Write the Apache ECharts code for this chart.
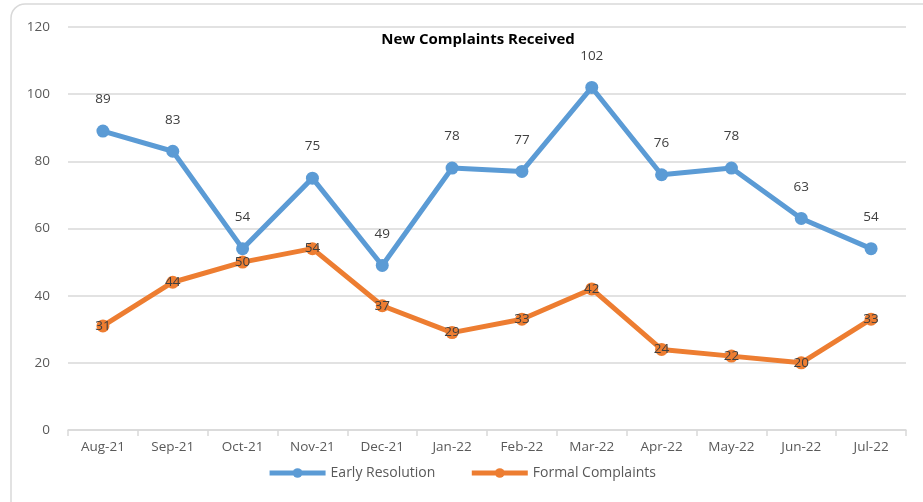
<!DOCTYPE html>
<html><head><meta charset="utf-8">
<script src="https://cdn.jsdelivr.net/npm/echarts@6/dist/echarts.min.js"></script>
<style>html,body{margin:0;padding:0;background:#fff}#c{width:923px;height:502px}</style>
</head><body><div id="c"></div>
<script>
var categories = ['Aug-21','Sep-21','Oct-21','Nov-21','Dec-21','Jan-22','Feb-22','Mar-22','Apr-22','May-22','Jun-22','Jul-22'];
var earlyResolution = [89,83,54,75,49,78,77,102,76,78,63,54];
var formalComplaints = [31,44,50,54,37,29,33,42,24,22,20,33];
var yTicks = {min:0, max:120, interval:20};

var chart = echarts.init(document.getElementById('c'));
var font = 'Open Sans';
chart.setOption({
  animation:false,
  textStyle:{fontFamily:font},
  title:{text:'New Complaints Received', left:473, top:27, textAlign:'center',
    textStyle:{fontSize:15, fontWeight:'bold', color:'#000', fontFamily:font}},
  graphic:[{type:'rect', shape:{x:11, y:4, width:940, height:540, r:14},
    style:{fill:'none', stroke:'#d9d9d9', lineWidth:1.5}, z:-1}],
  grid:{left:68, right:17, top:27, bottom:72},
  legend:{bottom:17, left:'center', itemWidth:56, itemHeight:12, itemGap:34,
    lineStyle:{width:5},
    textStyle:{fontSize:14, color:'#595959', fontFamily:font}},
  xAxis:{type:'category', data:categories, boundaryGap:true,
    axisLine:{lineStyle:{color:'#d9d9d9', width:1.5}},
    axisTick:{show:true, length:6, lineStyle:{color:'#d9d9d9', width:1.5}},
    axisLabel:{fontSize:13.5, color:'#595959', margin:10}},
  yAxis:{type:'value', min:yTicks.min, max:yTicks.max, interval:yTicks.interval,
    axisLine:{show:false}, axisTick:{show:false},
    splitLine:{lineStyle:{color:'#d9d9d9', width:1.5}},
    axisLabel:{fontSize:13.5, color:'#595959', margin:18}},
  series:[
    {name:'Early Resolution', type:'line', data:earlyResolution,
     symbol:'circle', symbolSize:13, color:'#5B9BD5',
     lineStyle:{width:5, color:'#5B9BD5'}, itemStyle:{color:'#5B9BD5'},
     label:{show:true, position:'top', distance:18, fontSize:13.5, color:'#404040'}},
    {name:'Formal Complaints', type:'line', data:formalComplaints,
     symbol:'circle', symbolSize:13, color:'#ED7D31',
     lineStyle:{width:5, color:'#ED7D31'}, itemStyle:{color:'#ED7D31'},
     label:{show:true, position:'inside', fontSize:13.5, color:'#404040'}}
  ]
});
</script></body></html>
